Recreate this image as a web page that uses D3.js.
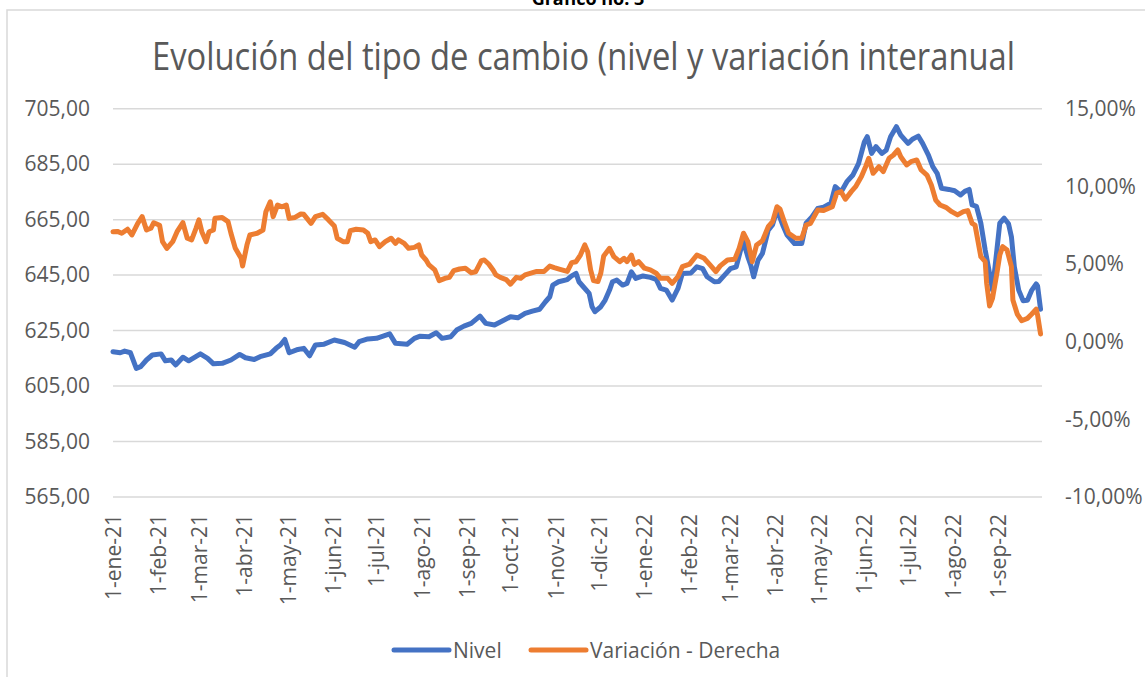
<!DOCTYPE html>
<html>
<head>
<meta charset="utf-8">
<script src="https://cdn.jsdelivr.net/npm/d3@7"></script>
<style>
  body { margin: 0; background: #fff; }
  svg { display: block; font-family: "Open Sans", sans-serif; }
</style>
</head>
<body>
<svg id="chart"></svg>
<script>
// Nivel del tipo de cambio (eje izquierdo)
const nivelFechas = [
  "2021-01-01","2021-01-06","2021-01-09","2021-01-13","2021-01-17","2021-01-20","2021-01-24","2021-01-28",
  "2021-02-03","2021-02-06","2021-02-10","2021-02-13","2021-02-18","2021-02-22",
  "2021-03-02","2021-03-07","2021-03-11","2021-03-17","2021-03-23","2021-03-29",
  "2021-04-02","2021-04-08","2021-04-12","2021-04-19","2021-04-23","2021-04-26","2021-04-29",
  "2021-05-02","2021-05-08","2021-05-12","2021-05-16","2021-05-20","2021-05-26",
  "2021-06-02","2021-06-09","2021-06-16","2021-06-19","2021-06-25",
  "2021-07-01","2021-07-10","2021-07-14","2021-07-22","2021-07-27","2021-07-31",
  "2021-08-06","2021-08-11","2021-08-15","2021-08-21","2021-08-25","2021-08-30",
  "2021-09-04","2021-09-10","2021-09-14","2021-09-20","2021-09-26",
  "2021-10-01","2021-10-06","2021-10-11","2021-10-16","2021-10-21","2021-10-25","2021-10-28","2021-10-30",
  "2021-11-03","2021-11-09","2021-11-12","2021-11-15","2021-11-17","2021-11-20","2021-11-24","2021-11-26","2021-11-28",
  "2021-12-02","2021-12-05","2021-12-08","2021-12-10","2021-12-13","2021-12-17","2021-12-20","2021-12-23","2021-12-26","2021-12-31",
  "2022-01-05","2022-01-09","2022-01-12","2022-01-16","2022-01-20","2022-01-24","2022-01-27",
  "2022-02-02","2022-02-06","2022-02-10","2022-02-13","2022-02-18","2022-02-21","2022-02-25",
  "2022-03-01","2022-03-05","2022-03-08","2022-03-10","2022-03-13","2022-03-15","2022-03-17","2022-03-20","2022-03-23","2022-03-27","2022-03-30",
  "2022-04-02","2022-04-06","2022-04-09","2022-04-14","2022-04-19","2022-04-22","2022-04-26","2022-04-30",
  "2022-05-04","2022-05-09","2022-05-12","2022-05-16","2022-05-20","2022-05-24","2022-05-28",
  "2022-06-01","2022-06-03","2022-06-06","2022-06-09","2022-06-13","2022-06-16","2022-06-19","2022-06-23","2022-06-26",
  "2022-07-01","2022-07-04","2022-07-08","2022-07-11","2022-07-15","2022-07-18","2022-07-21","2022-07-24","2022-07-29",
  "2022-08-02","2022-08-06","2022-08-09","2022-08-12","2022-08-14","2022-08-17","2022-08-20","2022-08-23","2022-08-26","2022-08-28","2022-08-31",
  "2022-09-02","2022-09-05","2022-09-08","2022-09-10","2022-09-12","2022-09-15","2022-09-18","2022-09-21","2022-09-24","2022-09-27","2022-09-28","2022-09-30"
];
const nivelValores = [
  617.4, 617.0, 617.6, 617.0, 611.4, 612.0, 614.4, 616.2,
  616.6, 614.1, 614.4, 612.6, 615.4, 614.1,
  616.6, 615.0, 613.0, 613.2, 614.4, 616.4,
  615.2, 614.6, 615.6, 616.6, 618.6, 619.8, 621.8,
  617.0, 618.2, 618.6, 615.9, 619.8, 620.1,
  621.6, 620.7, 619.0, 621.0, 622.0,
  622.2, 623.8, 620.4, 620.1, 622.2, 623.0,
  622.8, 624.2, 622.2, 622.8, 625.2, 626.6,
  627.6, 630.2, 627.6, 627.0, 628.6,
  630.0, 629.6, 631.2, 632.0, 632.7, 635.4, 637.2, 641.4,
  642.6, 643.4, 644.7, 645.6, 642.6, 640.8, 638.4, 633.6, 631.8,
  633.6, 636.0, 639.6, 642.6, 643.2, 641.4, 642.0, 646.2, 643.8, 644.7,
  644.2, 643.5, 640.2, 639.6, 636.0, 640.2, 645.6,
  645.8, 648.0, 647.3, 644.4, 642.6, 642.7, 645.0,
  647.3, 648.0, 654.0, 657.0, 651.6, 648.6, 644.4, 650.4, 652.8, 661.2, 663.2,
  668.5, 663.0, 659.4, 656.4, 656.4, 663.7, 666.0, 669.0,
  669.5, 670.9, 676.9, 675.0, 678.7, 681.0, 685.2,
  693.0, 694.9, 688.9, 691.3, 688.9, 690.0, 694.9, 698.5, 695.5,
  692.5, 694.0, 695.1, 692.5, 688.3, 684.1, 681.7, 676.3, 675.9,
  675.4, 673.9, 675.2, 675.9, 670.3, 669.8, 663.7, 654.0, 645.6, 639.6, 654.0,
  663.7, 665.5, 663.5, 658.8, 648.0, 639.6, 635.8, 635.9, 639.6, 641.8, 641.0, 632.7
];

// Variación interanual en % (eje derecho)
const variacionFechas = [
  "2021-01-01","2021-01-04","2021-01-07","2021-01-11","2021-01-14","2021-01-18","2021-01-21","2021-01-24","2021-01-27","2021-01-29",
  "2021-02-02","2021-02-04","2021-02-07","2021-02-11","2021-02-14","2021-02-18","2021-02-21","2021-02-24","2021-02-27",
  "2021-03-01","2021-03-03","2021-03-06","2021-03-08","2021-03-11","2021-03-12","2021-03-17","2021-03-21","2021-03-23","2021-03-26","2021-03-30","2021-03-31",
  "2021-04-03","2021-04-05","2021-04-10","2021-04-14","2021-04-16","2021-04-19","2021-04-21","2021-04-24","2021-04-27","2021-04-30",
  "2021-05-02","2021-05-06","2021-05-10","2021-05-12","2021-05-17","2021-05-20","2021-05-25","2021-05-29",
  "2021-06-02","2021-06-04","2021-06-08","2021-06-11","2021-06-13","2021-06-17","2021-06-22","2021-06-25","2021-06-27","2021-06-30",
  "2021-07-03","2021-07-07","2021-07-11","2021-07-14","2021-07-16","2021-07-20","2021-07-23","2021-07-27","2021-07-30",
  "2021-08-01","2021-08-04","2021-08-06","2021-08-10","2021-08-13","2021-08-17","2021-08-20","2021-08-23","2021-08-27","2021-08-31",
  "2021-09-04","2021-09-07","2021-09-11","2021-09-13","2021-09-16","2021-09-19","2021-09-21","2021-09-24","2021-09-28",
  "2021-10-01","2021-10-05","2021-10-08","2021-10-11","2021-10-15","2021-10-19","2021-10-24","2021-10-28","2021-10-31",
  "2021-11-04","2021-11-09","2021-11-12","2021-11-15","2021-11-18","2021-11-21","2021-11-23","2021-11-25","2021-11-27","2021-11-30",
  "2021-12-02","2021-12-04","2021-12-08","2021-12-11","2021-12-15","2021-12-18","2021-12-20","2021-12-23","2021-12-25","2021-12-28",
  "2022-01-01","2022-01-05","2022-01-09","2022-01-12","2022-01-17","2022-01-20","2022-01-24","2022-01-27",
  "2022-02-01","2022-02-06","2022-02-11","2022-02-15","2022-02-19","2022-02-22","2022-02-27",
  "2022-03-04","2022-03-07","2022-03-10","2022-03-13","2022-03-16","2022-03-19","2022-03-23","2022-03-27","2022-03-30",
  "2022-04-02","2022-04-04","2022-04-07","2022-04-10","2022-04-15","2022-04-19","2022-04-22","2022-04-25","2022-04-30",
  "2022-05-04","2022-05-10","2022-05-13","2022-05-16","2022-05-19","2022-05-23","2022-05-26","2022-05-30",
  "2022-06-02","2022-06-04","2022-06-07","2022-06-11","2022-06-14","2022-06-18","2022-06-21","2022-06-24","2022-06-26","2022-06-30",
  "2022-07-03","2022-07-07","2022-07-10","2022-07-14","2022-07-17","2022-07-20","2022-07-23","2022-07-27","2022-07-31",
  "2022-08-04","2022-08-08","2022-08-11","2022-08-14","2022-08-16","2022-08-20","2022-08-23","2022-08-24","2022-08-26","2022-08-28","2022-08-31",
  "2022-09-02","2022-09-04","2022-09-07","2022-09-10","2022-09-11","2022-09-14","2022-09-17","2022-09-21","2022-09-24","2022-09-27","2022-09-28","2022-09-30"
];
const variacionValores = [
  7.08, 7.10, 6.98, 7.24, 6.87, 7.62, 8.05, 7.19, 7.30, 7.66,
  7.50, 6.44, 6.01, 6.44, 7.08, 7.66, 6.66, 6.55, 7.30,
  7.84, 7.08, 6.44, 7.08, 7.19, 7.94, 7.99, 7.73, 6.98, 6.01, 5.37, 4.87,
  6.23, 6.87, 6.98, 7.19, 8.37, 9.01, 8.05, 8.80, 8.69, 8.80,
  7.94, 8.00, 8.22, 8.20, 7.62, 8.05, 8.20, 7.84,
  7.45, 6.66, 6.44, 6.44, 7.15, 7.24, 7.19, 6.98, 6.44, 6.55,
  6.12, 6.44, 6.66, 6.33, 6.55, 6.33, 6.01, 6.07, 6.23,
  5.58, 5.26, 4.94, 4.62, 3.93, 4.08, 4.14, 4.57, 4.68, 4.73,
  4.44, 4.50, 5.22, 5.26, 5.00, 4.62, 4.30, 4.14, 4.00,
  3.70, 4.14, 4.08, 4.30, 4.41, 4.52, 4.52, 4.87, 4.77,
  4.66, 4.52, 5.09, 5.15, 5.58, 6.23, 5.79, 4.62, 3.93, 3.87,
  4.41, 5.52, 6.01, 5.47, 5.15, 5.37, 5.15, 5.58, 4.98, 5.15,
  4.73, 4.62, 4.41, 4.08, 4.08, 3.76, 4.19, 4.83,
  4.99, 5.58, 5.37, 4.94, 4.51, 4.88, 5.26,
  5.30, 6.01, 6.98, 6.44, 5.15, 6.23, 6.50, 7.40, 7.73,
  8.69, 8.55, 7.73, 6.98, 6.66, 6.66, 7.51, 7.62, 8.48,
  8.44, 8.69, 9.56, 9.66, 9.17, 9.66, 9.98, 10.63,
  11.30, 11.81, 10.84, 11.27, 10.95, 11.81, 12.02, 12.34, 11.91, 11.38,
  11.59, 11.70, 11.06, 10.73, 10.09, 9.12, 8.80, 8.65, 8.37,
  8.16, 8.37, 8.44, 7.62, 7.51, 5.47, 5.15, 3.76, 2.30, 2.79, 4.40,
  5.58, 6.12, 5.90, 4.83, 2.69, 1.78, 1.35, 1.50, 1.78, 2.09, 1.70, 0.50
];

const ticksIzq = [565, 585, 605, 625, 645, 665, 685, 705];
const ticksDer = [-10, -5, 0, 5, 10, 15];
const meses = ["ene","feb","mar","abr","may","jun","jul","ago","sep","oct","nov","dic"];
const series = ["Nivel", "Variación - Derecha"];

const w = 1145, h = 677;
const plotLeft = 113, plotRight = 1042, plotTop = 108.7, plotBottom = 497;
const textColor = "#595959";
const colors = ["#4472C4", "#ED7D31"];

const parse = d3.timeParse("%Y-%m-%d");
const start = parse("2021-01-01"), end = parse("2022-10-01");

const svg = d3.select("#chart").attr("width", w).attr("height", h);

// marco del gráfico
svg.append("path")
  .attr("d", `M7,${h + 20}V10H${w + 20}`)
  .attr("fill", "none")
  .attr("stroke", "#d9d9d9")
  .attr("stroke-width", 1.5);

svg.append("text")
  .attr("x", 588).attr("y", 5)
  .attr("text-anchor", "middle")
  .style("font-size", "18px").style("font-weight", "bold")
  .attr("fill", "#000")
  .text("Gráfico no. 3");

svg.append("text")
  .attr("x", 152).attr("y", 70)
  .attr("textLength", 863).attr("lengthAdjust", "spacingAndGlyphs")
  .style("font-size", "39px")
  .attr("fill", textColor)
  .text("Evolución del tipo de cambio (nivel y variación interanual");

const x = d3.scaleTime().domain([start, end]).range([plotLeft, plotRight]);
const yL = d3.scaleLinear().domain([565, 705]).range([plotBottom, plotTop]);
const yR = d3.scaleLinear().domain([-10, 15]).range([plotBottom, plotTop]);

const loc = d3.formatLocale({decimal: ",", thousands: ".", grouping: [3], currency: ["", ""], minus: "-"});
const f2 = loc.format(".2f");

// lineas de cuadricula
svg.append("g").selectAll("line")
  .data(ticksIzq)
  .join("line")
  .attr("x1", plotLeft).attr("x2", plotRight)
  .attr("y1", d => yL(d)).attr("y2", d => yL(d))
  .attr("stroke", "#d9d9d9")
  .attr("stroke-width", 1.5);

const styleAxis = g => {
  g.select(".domain").remove();
  g.selectAll("text").attr("fill", textColor).style("font-size", "21px").style("font-family", "'Open Sans', sans-serif");
};

svg.append("g")
  .attr("transform", `translate(${plotLeft},0)`)
  .call(d3.axisLeft(yL).tickValues(ticksIzq).tickFormat(f2).tickSize(0).tickPadding(23))
  .call(styleAxis);

svg.append("g")
  .attr("transform", `translate(${plotRight},0)`)
  .call(d3.axisRight(yR).tickValues(ticksDer).tickFormat(d => f2(d) + "%").tickSize(0).tickPadding(23))
  .call(styleAxis);

const monthTicks = d3.timeMonth.range(start, end);
svg.append("g")
  .attr("transform", `translate(0,${plotBottom})`)
  .call(d3.axisBottom(x).tickValues(monthTicks)
    .tickFormat(d => `1-${meses[d.getMonth()]}-${String(d.getFullYear()).slice(2)}`)
    .tickSize(0))
  .call(styleAxis)
  .call(g => g.selectAll("text")
    .attr("y", 0).attr("x", -17)
    .attr("dy", "0.35em")
    .attr("transform", "rotate(-90)")
    .style("text-anchor", "end"));

const nivel = d3.zip(nivelFechas, nivelValores).map(([f, v]) => ({fecha: parse(f), valor: v}));
const variacion = d3.zip(variacionFechas, variacionValores).map(([f, v]) => ({fecha: parse(f), valor: v}));

const lineL = d3.line().x(d => x(d.fecha)).y(d => yL(d.valor));
const lineR = d3.line().x(d => x(d.fecha)).y(d => yR(d.valor));

svg.append("path")
  .datum(nivel)
  .attr("d", lineL)
  .attr("fill", "none")
  .attr("stroke", colors[0])
  .attr("stroke-width", 5)
  .attr("stroke-linejoin", "round")
  .attr("stroke-linecap", "round");

svg.append("path")
  .datum(variacion)
  .attr("d", lineR)
  .attr("fill", "none")
  .attr("stroke", colors[1])
  .attr("stroke-width", 5)
  .attr("stroke-linejoin", "round")
  .attr("stroke-linecap", "round");

// leyenda
const legendX = [394, 531];
const legend = svg.append("g").selectAll("g")
  .data(series)
  .join("g")
  .attr("transform", (d, i) => `translate(${legendX[i]},650)`);
legend.append("line")
  .attr("x1", 0).attr("x2", 55)
  .attr("stroke", (d, i) => colors[i])
  .attr("stroke-width", 5)
  .attr("stroke-linecap", "round");
legend.append("text")
  .attr("x", 59).attr("y", 7.5)
  .attr("fill", textColor)
  .style("font-size", "21px")
  .text(d => d);
</script>
</body>
</html>
